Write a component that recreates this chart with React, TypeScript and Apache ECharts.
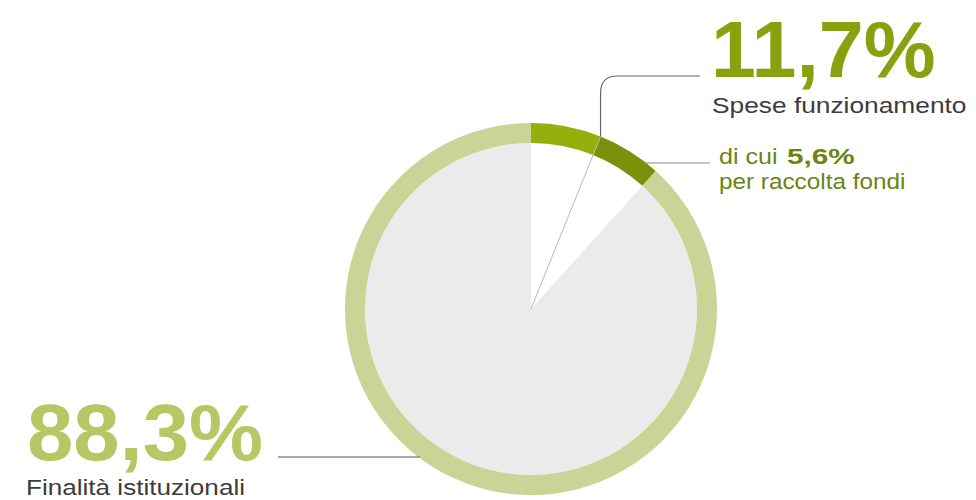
import React, { useEffect, useRef } from "react";
import * as echarts from "echarts";

// ---- data ----
const innerCategories = ["Spese funzionamento", "Finalità istituzionali"];
const innerShares = [11.7, 88.3];
const ringCategories = ["Spese funzionamento (altre)", "Raccolta fondi", "Finalità istituzionali"];
const ringShares = [6.1, 5.6, 88.3];
const subLabelPrefix = "di cui";
const subLabelSuffix = "per raccolta fondi";

const fmt = (v: number) => v.toFixed(1).replace(".", ",") + "%";

export default function App() {
  const ref = useRef<HTMLDivElement>(null);
  useEffect(() => {
    if (!ref.current) return;
    const chart = echarts.init(ref.current, undefined, { renderer: "svg" });
    const cx = 531;
    const cy = 309;
    const rIn = 166;
    const rOut = 186;
    // boundary angle between first two ring segments (clockwise from top)
    const a = (ringShares[0] / 100) * Math.PI * 2;
    const ex = cx + rOut * Math.sin(a);
    const ey = cy - rOut * Math.cos(a);
    const sans = "'Liberation Sans', Arial, Helvetica, sans-serif";
    const mid = (baseline: number, size: number) => baseline - 0.3465 * size;
    const Z = 100;

    chart.setOption({
      animation: false,
      backgroundColor: "#ffffff",
      series: [
        {
          type: "pie",
          silent: true,
          center: [cx, cy],
          radius: [0, rIn],
          startAngle: 90,
          clockwise: true,
          label: { show: false },
          labelLine: { show: false },
          itemStyle: { borderWidth: 0 },
          emphasis: { disabled: true },
          data: innerCategories.map((n, i) => ({
            name: n,
            value: innerShares[i],
            itemStyle: { color: i === 0 ? "#ffffff" : "#ebebeb" },
          })),
        },
        {
          type: "pie",
          silent: true,
          center: [cx, cy],
          radius: [rIn, rOut],
          startAngle: 90,
          clockwise: true,
          label: { show: false },
          labelLine: { show: false },
          itemStyle: { borderWidth: 0 },
          emphasis: { disabled: true },
          data: ringCategories.map((n, i) => ({
            name: n,
            value: ringShares[i],
            itemStyle: { color: ["#95af0e", "#7a910b", "#c9d596"][i] },
          })),
        },
      ],
      graphic: [
        // leader 1
        { type: "line", z: Z, silent: true, shape: { x1: cx, y1: cy, x2: ex, y2: ey }, style: { stroke: "#b8b8b8", lineWidth: 1 } },
        { type: "line", z: Z, silent: true, shape: { x1: ex, y1: ey, x2: ex, y2: 93 }, style: { stroke: "#666666", lineWidth: 1.2 } },
        { type: "bezierCurve", z: Z, silent: true, shape: { x1: ex, y1: 93, x2: ex + 17, y2: 76, cpx1: ex, cpy1: 76 }, style: { stroke: "#666666", lineWidth: 1.2, fill: null } },
        { type: "line", z: Z, silent: true, shape: { x1: ex + 17, y1: 76, x2: 700, y2: 76 }, style: { stroke: "#666666", lineWidth: 1.2 } },
        // leader 2
        { type: "line", z: Z, silent: true, shape: { x1: 643, y1: 163, x2: 710, y2: 163 }, style: { stroke: "#8a8a8a", lineWidth: 1.2 } },
        // leader 3
        { type: "line", z: Z, silent: true, shape: { x1: 278, y1: 457, x2: 420, y2: 457 }, style: { stroke: "#555555", lineWidth: 1.2 } },
        // texts
        {
          type: "text", z: Z, silent: true, x: 711, y: mid(76.5, 80), scaleX: 1.01,
          style: { text: fmt(innerShares[0]), font: `bold 80px ${sans}`, fill: "#88a10f", align: "left", verticalAlign: "middle" },
        },
        {
          type: "text", z: Z, silent: true, x: 712, y: mid(113, 22.5), scaleX: 1.17,
          style: { text: innerCategories[0], font: `22.5px ${sans}`, fill: "#3c3c3c", align: "left", verticalAlign: "middle" },
        },
        {
          type: "text", z: Z, silent: true, x: 719, y: mid(164.5, 21.5), scaleX: 1.17,
          style: { text: subLabelPrefix, font: `21.5px ${sans}`, fill: "#6a8412", align: "left", verticalAlign: "middle" },
        },
        {
          type: "text", z: Z, silent: true, x: 787, y: mid(164.5, 22), scaleX: 1.35,
          style: { text: fmt(ringShares[1]), font: `bold 22px ${sans}`, fill: "#6a8412", align: "left", verticalAlign: "middle" },
        },
        {
          type: "text", z: Z, silent: true, x: 719, y: mid(188.5, 21.5), scaleX: 1.13,
          style: { text: subLabelSuffix, font: `21.5px ${sans}`, fill: "#6a8412", align: "left", verticalAlign: "middle" },
        },
        {
          type: "text", z: Z, silent: true, x: 27, y: mid(459.5, 80), scaleX: 1.04,
          style: { text: fmt(innerShares[1]), font: `bold 80px ${sans}`, fill: "#b7c763", align: "left", verticalAlign: "middle" },
        },
        {
          type: "text", z: Z, silent: true, x: 26, y: mid(495, 22.5), scaleX: 1.16,
          style: { text: innerCategories[1], font: `22.5px ${sans}`, fill: "#3c3c3c", align: "left", verticalAlign: "middle" },
        },
      ],
    });
    return () => chart.dispose();
  }, []);
  return (
    <div
      ref={ref}
      style={{ position: "fixed", left: 0, top: 0, width: 976, height: 500, background: "#fff" }}
    />
  );
}
